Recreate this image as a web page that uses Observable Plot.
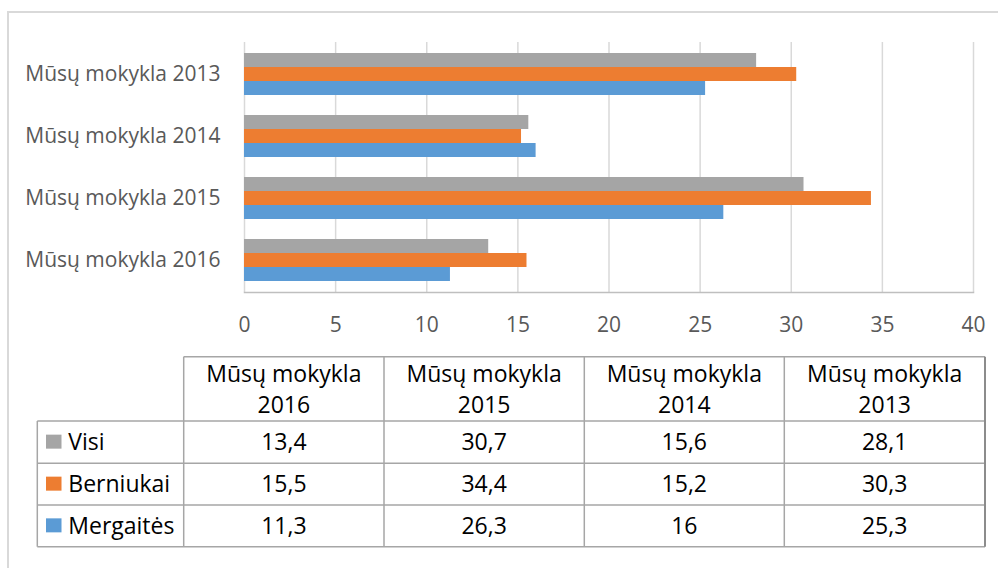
<!DOCTYPE html>
<html>
<head>
<meta charset="utf-8">
<script src="https://cdn.jsdelivr.net/npm/d3@7"></script>
<script src="https://cdn.jsdelivr.net/npm/@observablehq/plot@0.6"></script>
<style>
  html, body { margin: 0; padding: 0; background: #fff; }
  #wrap { position: relative; width: 998px; height: 568px; overflow: hidden; background: #fff; font-family: "Open Sans", sans-serif; }
  #outer { position: absolute; left: 7px; top: 11px; width: 1010px; height: 620px; border: 2px solid #d9d9d9; box-sizing: border-box; }
  #chart { position: absolute; left: 0; top: 0; }
  #tablesvg { position: absolute; left: 0; top: 0; }
</style>
</head>
<body>
<div id="wrap">
  <div id="outer"></div>
  <div id="chart"></div>
  <svg id="tablesvg" width="998" height="568"></svg>
</div>
<script>
// Categories (top to bottom in the chart)
const categories = ["Mūsų mokykla 2013", "Mūsų mokykla 2014", "Mūsų mokykla 2015", "Mūsų mokykla 2016"];
// Series names and values (aligned with categories)
const seriesNames = ["Visi", "Berniukai", "Mergaitės"];
const visi = [28.1, 15.6, 30.7, 13.4];
const berniukai = [30.3, 15.2, 34.4, 15.5];
const mergaites = [25.3, 16, 26.3, 11.3];
const seriesColors = ["#a5a5a5", "#ed7d31", "#5b9bd5"];
const xTicks = [0, 5, 10, 15, 20, 25, 30, 35, 40];
// Table column order (as in the data table)
const tableOrder = ["Mūsų mokykla 2016", "Mūsų mokykla 2015", "Mūsų mokykla 2014", "Mūsų mokykla 2013"];

const seriesValues = [visi, berniukai, mergaites];
const rows = [];
seriesNames.forEach((s, si) => {
  categories.forEach((c, ci) => rows.push({series: s, si, category: c, value: seriesValues[si][ci]}));
});

const barH = 14;
const barMarks = seriesNames.map((s, si) =>
  Plot.barX(rows.filter(d => d.series === s), {
    x: "value",
    y: "category",
    fill: seriesColors[si],
    insetTop: si * barH,
    insetBottom: (seriesNames.length - 1 - si) * barH
  })
);

const chart = Plot.plot({
  width: 998,
  height: 340,
  marginTop: 42,
  marginBottom: 48,
  marginLeft: 244,
  marginRight: 25,
  style: { fontFamily: "Open Sans, sans-serif", fontSize: "21px", color: "#595959", background: "transparent" },
  x: { domain: [0, 40], ticks: xTicks, label: null },
  y: { domain: categories, paddingInner: 0.328, paddingOuter: 0.164, align: 0.5, label: null },
  marks: [
    Plot.gridX(xTicks, { stroke: "#d9d9d9", strokeOpacity: 1, strokeWidth: 1.5 }),
    ...barMarks,
    Plot.frame({ anchor: "bottom", stroke: "#bfbfbf", strokeWidth: 1.5 }),
    Plot.axisX(xTicks, { tickSize: 0, tickPadding: 25, label: null, fill: "#595959" }),
    Plot.axisY({ tickSize: 0, tickPadding: 24, label: null, fill: "#595959" })
  ]
});
document.getElementById("chart").appendChild(chart);

// Data table (drawn in SVG with d3)
const fmt = v => String(v).replace(".", ",");
const colX = [37.3, 183.7, 384, 584.3, 784.3, 985];
const rowY = [356.7, 421, 463.3, 505, 546.7];
const lineC = "#a6a6a6";
const svg = d3.select("#tablesvg");
const g = svg.append("g").attr("font-family", "Open Sans, sans-serif").attr("font-size", 23).attr("fill", "#000");
// horizontal lines
g.append("line").attr("x1", colX[1]).attr("x2", colX[5]).attr("y1", rowY[0]).attr("y2", rowY[0]).attr("stroke", lineC).attr("stroke-width", 1.5);
rowY.slice(1).forEach(y => g.append("line").attr("x1", colX[0]).attr("x2", colX[5]).attr("y1", y).attr("y2", y).attr("stroke", lineC).attr("stroke-width", 1.5));
// vertical lines
g.append("line").attr("x1", colX[0]).attr("x2", colX[0]).attr("y1", rowY[1]).attr("y2", rowY[4]).attr("stroke", lineC).attr("stroke-width", 1.5);
colX.slice(1).forEach((x, i) => g.append("line").attr("x1", x).attr("x2", x).attr("y1", rowY[0]).attr("y2", rowY[4])
  .attr("stroke", i === 4 ? "#8c8c8c" : lineC).attr("stroke-width", i === 4 ? 2 : 1.5));
// header text
tableOrder.forEach((c, j) => {
  const cx = (colX[j + 1] + colX[j + 2]) / 2;
  const k = c.lastIndexOf(" ");
  g.append("text").attr("x", cx).attr("y", 381.7).attr("text-anchor", "middle").text(c.slice(0, k));
  g.append("text").attr("x", cx).attr("y", 413.3).attr("text-anchor", "middle").text(c.slice(k + 1));
});
// body rows
seriesNames.forEach((s, si) => {
  const cy = (rowY[si + 1] + rowY[si + 2]) / 2;
  g.append("rect").attr("x", 46).attr("y", cy - 7.5).attr("width", 15.5).attr("height", 14).attr("fill", seriesColors[si]);
  g.append("text").attr("x", 68.3).attr("y", cy).attr("dy", "0.36em").text(s);
  tableOrder.forEach((c, j) => {
    const cx = (colX[j + 1] + colX[j + 2]) / 2;
    g.append("text").attr("x", cx).attr("y", cy).attr("dy", "0.36em").attr("text-anchor", "middle")
      .text(fmt(seriesValues[si][categories.indexOf(c)]));
  });
});
</script>
</body>
</html>
